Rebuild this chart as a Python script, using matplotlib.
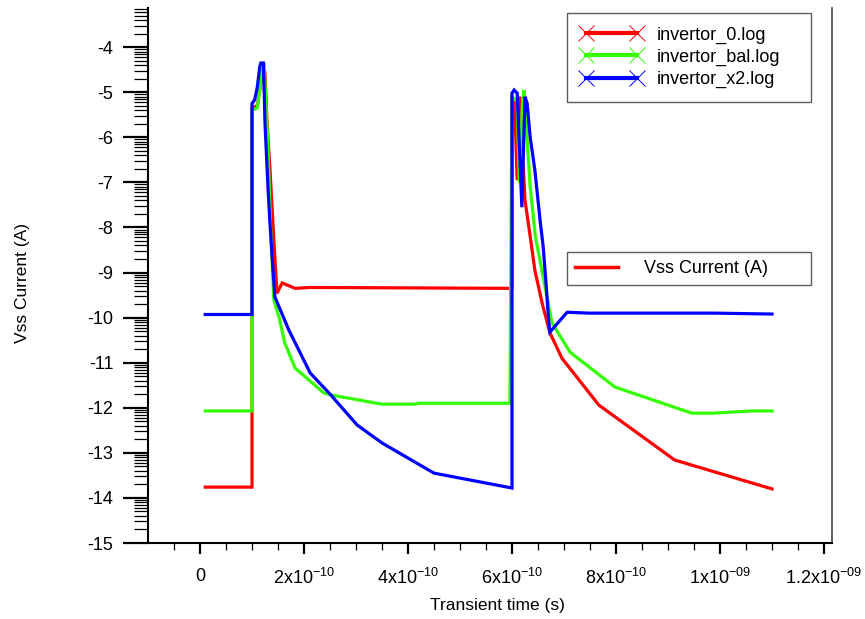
import numpy as np
import matplotlib
matplotlib.use("Agg")
import matplotlib.pyplot as plt
from matplotlib.lines import Line2D
from matplotlib.ticker import FixedLocator

plt.rcParams['font.family'] = ['Liberation Sans', 'DejaVu Sans']
plt.rcParams['mathtext.default'] = 'regular'

# time in units of 1e-10 s, current as log10(A)
red_t = [0.1, 1.0, 1.0, 1.1, 1.2, 1.25, 1.29, 1.35, 1.42, 1.48, 1.58, 1.83, 2.12, 6.0,
         6.0, 6.05, 6.1, 6.12, 6.15, 6.25, 6.35, 6.44, 6.58, 6.73, 6.96, 7.67, 9.13, 11.0]
red_v = [-13.76, -13.76, -5.35, -5.3, -4.6, -4.58, -5.69, -6.8, -8.28, -9.46, -9.23, -9.35, -9.33, -9.35,
         -5.1, -5.2, -6.95, -5.3, -5.1, -7.39, -8.2, -8.95, -9.68, -10.34, -10.9, -11.94, -13.16, -13.8]

green_t = [0.1, 1.0, 1.0, 1.1, 1.2, 1.23, 1.3, 1.36, 1.42, 1.52, 1.63, 1.83, 2.38, 2.54, 3.5, 4.13, 4.21, 5.96,
           6.0, 6.1, 6.14, 6.2, 6.23, 6.35, 6.45, 6.6, 6.77, 7.12, 7.98, 9.46, 9.85, 10.62, 11.0]
green_v = [-12.07, -12.07, -5.4, -5.35, -4.5, -4.35, -6.0, -8.06, -9.61, -9.99, -10.56, -11.12, -11.67, -11.72,
           -11.92, -11.92, -11.9, -11.9,
           -5.1, -5.2, -7.0, -5.3, -4.95, -7.1, -8.2, -9.1, -10.12, -10.77, -11.54, -12.12, -12.12, -12.07, -12.07]

blue_t = [0.1, 1.0, 1.0, 1.05, 1.1, 1.15, 1.17, 1.22, 1.25, 1.31, 1.35, 1.4, 1.44, 1.71, 2.12, 2.48, 3.02, 3.5,
          4.5, 6.0, 6.0, 6.04, 6.1, 6.19, 6.25, 6.29, 6.35, 6.44, 6.54, 6.6, 6.66, 6.7, 6.73, 7.06, 7.48, 9.9, 11.0]
blue_v = [-9.93, -9.93, -5.25, -5.17, -4.9, -4.43, -4.35, -4.35, -5.69, -7.17, -7.99, -8.88, -9.54, -10.28,
          -11.23, -11.67, -12.38, -12.78, -13.45, -13.78, -5.02, -4.95, -5.02, -7.55, -5.1, -5.24, -6.0, -6.73,
          -7.84, -8.43, -9.32, -10.0, -10.32, -9.88, -9.9, -9.9, -9.92]

series_names = ['invertor_0.log', 'invertor_bal.log', 'invertor_x2.log']
series_colors = ['#ff0000', '#33ff00', '#0000ff']

xticks = [0, 2e-10, 4e-10, 6e-10, 8e-10, 1e-9, 1.2e-9]
xtick_labels = ['0', '2x10$^{-10}$', '4x10$^{-10}$', '6x10$^{-10}$', '8x10$^{-10}$',
                '1x10$^{-09}$', '1.2x10$^{-09}$']
yticks = list(range(-15, -3))

fig = plt.figure(figsize=(8.65, 6.19), dpi=100)
ax = fig.add_axes([148 / 865, 1 - 543 / 619, 684 / 865, 535 / 619])

for t, v, c in zip([red_t, green_t, blue_t], [red_v, green_v, blue_v], series_colors):
    ax.plot(np.array(t) * 1e-10, v, color=c, lw=2.3, solid_joinstyle='miter')

ax.set_xlim(-1e-10, 1.2154e-9)
ax.set_ylim(-15, -3.13)

ax.set_xticks(xticks)
ax.set_xticklabels(xtick_labels)
ax.xaxis.set_minor_locator(FixedLocator(np.arange(-0.5e-10, 1.23e-9, 0.5e-10)))
ax.set_yticks(yticks)
ax.set_yticklabels([str(y) for y in yticks])
ymin = []
for n in range(-15, -3):
    for k in range(2, 10):
        ymin.append(n + np.log10(k))
ax.yaxis.set_minor_locator(FixedLocator(ymin))

ax.tick_params(axis='y', which='major', direction='out', length=18, width=1.6, labelsize=13, pad=7)
ax.tick_params(axis='y', which='minor', direction='out', length=10, width=0.9)
ax.tick_params(axis='x', which='major', direction='out', length=8, width=1.6, labelsize=13, pad=10)
ax.tick_params(axis='x', which='minor', direction='out', length=5, width=0.9)

ax.spines['top'].set_visible(False)
ax.spines['left'].set_linewidth(1.5)
ax.spines['bottom'].set_linewidth(1.5)
ax.spines['right'].set_linewidth(1.2)
ax.spines['right'].set_color('#444444')

ax.set_xlabel('Transient time (s)', fontsize=12.5)
ax.set_ylabel('Vss Current (A)', fontsize=12.5)
ax.xaxis.set_label_coords((497 - 148) / 684, -0.103)
ax.yaxis.set_label_coords((30 - 148) / 684, 0.486)

handles = [Line2D([], [], color=c, lw=3, marker='x', ms=12, mew=0.7) for c in series_colors]
leg1 = ax.legend(handles, series_names, loc='upper left', mode='expand', numpoints=2,
                 bbox_to_anchor=(0.6126, 0.837, 0.356, 0.154), borderaxespad=0,
                 fontsize=13, handlelength=3.4, handletextpad=0.8, labelspacing=0.28,
                 borderpad=0.75, frameon=True, fancybox=False, edgecolor='#333333')
leg1.get_frame().set_linewidth(1.0)
ax.add_artist(leg1)

leg2 = ax.legend([Line2D([], [], color='#ff0000', lw=2.5)], ['Vss Current (A)'], loc='upper left',
                 mode='expand', bbox_to_anchor=(0.6126, 0.4673, 0.356, 0.0766), borderaxespad=0,
                 fontsize=13, handlelength=2.4, handletextpad=1.4, borderpad=0.45,
                 frameon=True, fancybox=False, edgecolor='#333333')
leg2.get_frame().set_linewidth(1.0)

fig.savefig('out.png', dpi=100)
